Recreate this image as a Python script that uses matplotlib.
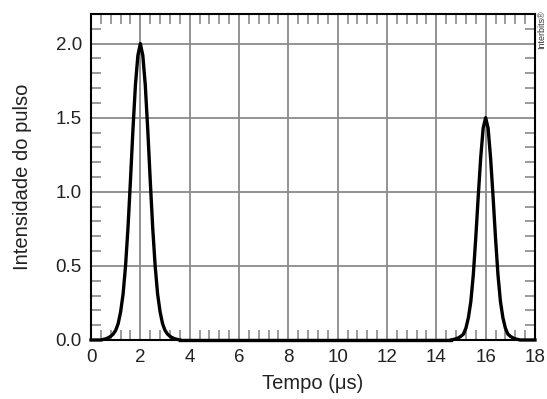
import matplotlib
matplotlib.use("Agg")
import matplotlib.pyplot as plt
from matplotlib.ticker import MultipleLocator

plt.rcParams['font.family'] = ['Liberation Sans', 'DejaVu Sans']

# Pulse 1 (centred at 2 us, height 2.0)
p1_x = [0.0, 0.4, 0.5, 0.6, 0.7, 0.8, 0.9, 1.0, 1.1, 1.2, 1.3, 1.4, 1.5, 1.6, 1.7, 1.8, 1.9,
        2.0, 2.1, 2.2, 2.3, 2.4, 2.5, 2.6, 2.7, 2.8, 2.9, 3.0, 3.1, 3.2, 3.3, 3.4, 3.5, 3.6]
p1_y = [0.0, 0.0, 0.004, 0.008, 0.015, 0.025, 0.04, 0.065, 0.11, 0.19, 0.31, 0.50, 0.76, 1.08,
        1.42, 1.72, 1.92, 2.0, 1.92, 1.72, 1.42, 1.08, 0.76, 0.50, 0.31, 0.19, 0.11, 0.065,
        0.04, 0.025, 0.015, 0.008, 0.004, 0.0]
# Flat baseline between pulses
mid_x = [3.6, 14.6]
mid_y = [0.0, 0.0]
# Pulse 2 (centred at 16 us, height 1.5)
p2_x = [14.6, 14.7, 14.8, 14.9, 15.0, 15.1, 15.2, 15.3, 15.4, 15.5, 15.6, 15.7, 15.8, 15.9,
        16.0, 16.1, 16.2, 16.3, 16.4, 16.5, 16.6, 16.7, 16.8, 16.9, 17.0, 17.1, 17.2, 17.3,
        17.4, 18.0]
p2_y = [0.0, 0.004, 0.008, 0.015, 0.025, 0.04, 0.08, 0.15, 0.26, 0.44, 0.69, 0.97, 1.23, 1.43,
        1.5, 1.43, 1.23, 0.97, 0.69, 0.44, 0.26, 0.15, 0.08, 0.04, 0.025, 0.015, 0.008, 0.004,
        0.0, 0.0]

x_ticks = [0, 2, 4, 6, 8, 10, 12, 14, 16, 18]
y_ticks = [0.0, 0.5, 1.0, 1.5, 2.0]

fig = plt.figure(figsize=(5.47, 3.99), dpi=100)
ax = fig.add_axes([0.1664, 0.1479, 0.978 - 0.1664, 0.965 - 0.1479])

ax.set_xlim(0, 18)
ax.set_ylim(0, 2.2)
ax.set_xticks(x_ticks)
ax.set_yticks(y_ticks)
ax.set_xticklabels([str(v) for v in x_ticks])
ax.set_yticklabels([f"{v:.1f}" for v in y_ticks])
ax.xaxis.set_minor_locator(MultipleLocator(0.4))
ax.yaxis.set_minor_locator(MultipleLocator(0.1))

ax.grid(True, which='major', color='#8a8a8a', linewidth=1.3, zorder=0)
ax.tick_params(which='major', length=0, labelsize=13.5, pad=6.5, colors='#222222')
ax.tick_params(which='minor', direction='in', length=7, width=1.2, color='#8a8a8a',
               top=True, right=True, bottom=True, left=True)

for s in ax.spines.values():
    s.set_linewidth(1.5)
    s.set_color('black')

line_kw = dict(color='black', linewidth=2.4, solid_joinstyle='round', zorder=3, clip_on=False)
ax.plot(p1_x, p1_y, **line_kw)
ax.plot(mid_x, mid_y, **line_kw)
ax.plot(p2_x, p2_y, **line_kw)

ax.set_xlabel("Tempo (μs)", fontsize=14.5, color='#222222', labelpad=6)
ax.set_ylabel("Intensidade do pulso", fontsize=14.5, color='#222222', labelpad=17)

fig.text(0.990, 0.975, "Interbits®", rotation=90, fontsize=6.5, ha='center', va='top',
         color='#333333')

fig.savefig("out.png", dpi=100)
